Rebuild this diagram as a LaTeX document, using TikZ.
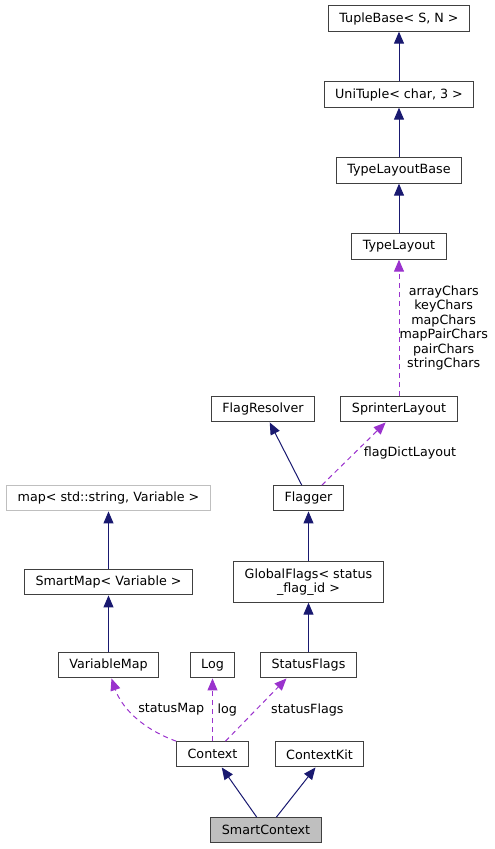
\documentclass[tikz,border=0pt]{standalone}
\usepackage{fontspec}
\setmainfont{DejaVu Sans}
\usetikzlibrary{arrows.meta}
\definecolor{inhcol}{HTML}{191970}
\definecolor{usecol}{HTML}{9A32CD}
\definecolor{boxcol}{HTML}{404040}
\tikzset{
	cls/.style={draw=boxcol,line width=1pt,fill=white,minimum height=25.3pt,inner xsep=11pt,inner ysep=0pt,font=\fontsize{12.7}{14.5}\selectfont},
	extcls/.style={cls,draw=black!25},
	curcls/.style={cls,fill=black!25},
	inh/.style={draw=inhcol,line width=1pt,-{Triangle[length=12pt,width=10pt]}},
	usage/.style={draw=usecol,line width=1pt,dash pattern=on 5pt off 4pt,-{Triangle[length=12pt,width=10pt]}},
	lbl/.style={font=\fontsize{12.7}{14.5}\selectfont,align=center,inner sep=1pt,text=black}
}
\begin{document}
\begin{tikzpicture}[x=1pt,y=-1pt,node distance=76pt]
	\useasboundingbox (0,0) rectangle (495,849);
	\node[cls] (tb) at (399,18.5) {TupleBase< S, N >};
	\node[cls,below of=tb] (ut) {UniTuple< char, 3 >};
	\node[cls,below of=ut] (tlb) {TypeLayoutBase};
	\node[cls,below of=tlb] (tl) {TypeLayout};
	\node[cls] (sl) at (399,409.3) {SprinterLayout};
	\node[cls] (fr) at (263,409.3) {FlagResolver};
	\node[cls] (fl) at (308.5,498.3) {Flagger};
	\node[extcls] (map) at (108.5,498.3) {map< std::string, Variable >};
	\node[cls,below of=map,node distance=84pt] (smap) {SmartMap< Variable >};
	\node[cls,below of=smap,node distance=83pt] (vm) {VariableMap};
	\node[cls,align=center,minimum height=40.3pt] (gf) at (308.5,582) {GlobalFlags< status\\\_flag\_id >};
	\node[cls] (sf) at (308.5,665.3) {StatusFlags};
	\node[cls] (log) at (212.5,665.3) {Log};
	\node[cls] (ctx) at (212.5,754.3) {Context};
	\node[cls] (ck) at (319.5,754.3) {ContextKit};
	\node[curcls] (sc) at (266,830.3) {SmartContext};
	% inheritance
	\draw (ut) edge[inh] (tb);
	\draw (tlb) edge[inh] (ut);
	\draw (tl) edge[inh] (tlb);
	\draw (fl) edge[inh] (fr);
	\draw (gf) edge[inh] (fl);
	\draw (sf) edge[inh] (gf);
	\draw (smap) edge[inh] (map);
	\draw (vm) edge[inh] (smap);
	\draw (sc) edge[inh] (ctx);
	\draw (sc) edge[inh] ([xshift=-4pt]ck.south);
	% members
	\draw (sl) edge[usage] node[lbl,midway,anchor=west,xshift=-1pt] {arrayChars\\keyChars\\mapChars\\mapPairChars\\pairChars\\stringChars} (tl);
	\draw (fl) edge[usage] node[lbl,midway,anchor=west,xshift=8.6pt,yshift=1pt] {flagDictLayout} (sl);
	\draw[usage] (ctx.north west) .. controls (140,728) and (121,706) .. ([xshift=3pt]vm.south)
		node[lbl,pos=0.5,anchor=west,xshift=3pt,yshift=6pt] {statusMap};
	\draw (ctx) edge[usage] node[lbl,midway,anchor=west,xshift=3.5pt] {log} (log);
	\draw ([xshift=13pt]ctx.north) edge[usage] node[lbl,midway,anchor=west,xshift=13.7pt] {statusFlags} ([xshift=-22pt]sf.south);
\end{tikzpicture}
\end{document}
